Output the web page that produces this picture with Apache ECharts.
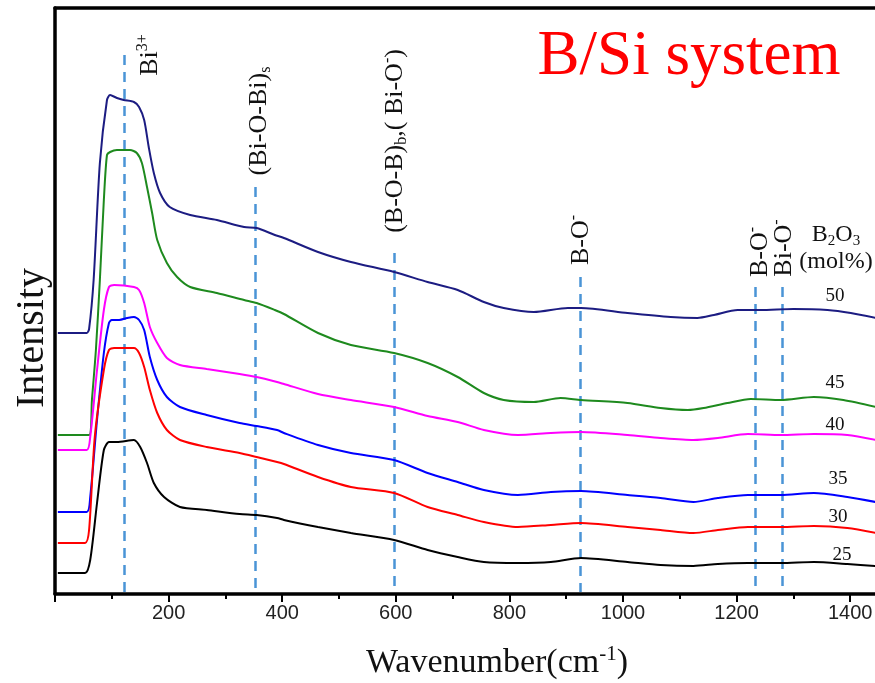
<!DOCTYPE html>
<html><head><meta charset="utf-8">
<script src="https://cdn.jsdelivr.net/npm/echarts@6/dist/echarts.min.js"></script>
<style>html,body{margin:0;padding:0;background:#fff}#c{width:875px;height:683px}</style>
</head><body><div id="c"></div>
<script>
// ---- data (wavenumber cm-1, relative intensity a.u.) ----
const xTickLabels = [200, 400, 600, 800, 1000, 1200, 1400];
const seriesNames = ['50', '45', '40', '35', '30', '25'];
const s50 = [[5,271],[56,271],[60,275],[68,324],[79,441],[91.5,504],[97,509],[109,506],[121,504],[139,502],[148,497],[157,484],[165,457],[174,431],[185,411],[202,397],[238,389],[285,384],[333,377],[355,376],[387,369],[403,366],[463,352],[521,342],[597,332],[656,322],[709,314],[755,302],[790,296],[843,292],[903,296],[926,296],[1008,291],[1084,287],[1131,286],[1160,289],[1202,294],[1242,294],[1300,295],[1360,294],[1401,291],[1445,286]];
const s45 = [[5,169],[60,169],[65,204],[72,254],[79,324],[86,404],[91.5,449],[97,452],[109,454],[132,454],[144,451],[153,441],[162,417],[171,391],[180,364],[197,341],[215,327],[238,317],[285,311],[333,304],[355,301],[387,294],[403,290],[463,271],[521,259],[597,251],[656,241],[709,227],[755,211],[790,204],[843,202],[890,206],[926,204],[1008,201],[1066,196],[1114,194],[1142,196],[1184,201],[1225,205],[1278,204],[1336,207],[1388,204],[1445,197]];
const s40 = [[5,154],[56,154],[62,167],[74,234],[86,294],[95,317],[104,319],[139,317],[148,314],[157,301],[167,277],[180,261],[197,246],[220,239],[267,235],[325,230],[355,227],[391,222],[403,220],[463,210],[521,204],[597,197],[656,188],[709,182],[755,174],[815,169],[873,171],[926,172],[1008,169],[1066,166],[1124,164],[1167,166],[1220,170],[1278,169],[1336,170],[1395,169],[1445,164]];
const s35 = [[5,92],[56,92],[62,107],[74,184],[86,251],[95,281],[100,284],[113,284],[127,286],[139,287],[148,284],[157,274],[167,247],[180,224],[197,207],[220,197],[267,189],[325,181],[355,178],[391,174],[403,171],[463,159],[521,151],[597,144],[656,131],[709,122],[755,114],[815,109],[873,112],[926,113],[1008,109],[1066,106],[1124,102],[1167,106],[1220,109],[1278,109],[1336,111],[1395,107],[1445,102]];
const s30 = [[5,61],[53,61],[60,74],[70,167],[86,234],[95,254],[104,256],[139,256],[148,251],[157,237],[167,214],[180,191],[197,174],[220,164],[267,157],[325,151],[355,147],[391,142],[403,140],[463,127],[521,117],[597,111],[656,97],[709,89],[755,82],[815,77],[873,79],[926,81],[1008,77],[1066,74],[1124,71],[1167,74],[1220,77],[1278,77],[1336,78],[1395,76],[1445,71]];
const s25 = [[5,31],[53,31],[62,44],[74,101],[86,154],[95,162],[109,162],[139,164],[150,157],[162,141],[174,121],[192,107],[220,97],[267,94],[325,90],[355,89],[391,86],[403,84],[463,77],[521,71],[597,64],[656,54],[709,47],[755,42],[815,41],[873,42],[926,46],[1008,42],[1066,39],[1124,38],[1167,40],[1220,41],[1278,41],[1336,42],[1395,40],[1445,38]];
const bandX = [122, 353, 597, 924, 1233, 1280];
const bandTop = [549, 417, 351, 327, 317, 317];
const bandBottom = 12;

const seriesData = [s50, s45, s40, s35, s30, s25];
const seriesColors = ['#1c1c82', '#1e8a1e', '#ff00ff', '#0000ff', '#ff0000', '#000000'];

const SERIF = 'Liberation Serif';
const SANS = 'Liberation Sans';

function rotLabel(x, y, text, size) {
  return {
    type: 'text', x: x, y: y, rotation: Math.PI / 2, silent: true,
    style: {
      text: text, align: 'center', verticalAlign: 'middle', fill: '#111',
      rich: {
        m: { fontFamily: SERIF, fontSize: size, lineHeight: 30, fill: '#111' },
        p: { fontFamily: SERIF, fontSize: Math.round(size * 0.62), lineHeight: 12, verticalAlign: 'top', fill: '#111' },
        b: { fontFamily: SERIF, fontSize: Math.round(size * 0.62), lineHeight: 12, verticalAlign: 'bottom', fill: '#111' }
      }
    }
  };
}
function hText(x, y, text, size) {
  return {
    type: 'text', x: x, y: y, silent: true,
    style: {
      text: text, align: 'center', verticalAlign: 'middle', fill: '#111',
      rich: {
        m: { fontFamily: SERIF, fontSize: size, lineHeight: size + 4, fill: '#111' },
        p: { fontFamily: SERIF, fontSize: Math.round(size * 0.62), lineHeight: 12, verticalAlign: 'top', fill: '#111' },
        b: { fontFamily: SERIF, fontSize: Math.round(size * 0.62), lineHeight: 12, verticalAlign: 'bottom', fill: '#111' }
      }
    }
  };
}

const chart = echarts.init(document.getElementById('c'), null, { renderer: 'canvas' });

const series = seriesData.map((d, i) => ({
  name: seriesNames[i], type: 'line', data: d, showSymbol: false, symbol: 'none',
  smooth: 0.25, lineStyle: { color: seriesColors[i], width: 2 }, itemStyle: { color: seriesColors[i] },
  z: 3
}));
series[5].markLine = {
  silent: true, symbol: ['none', 'none'], label: { show: false },
  lineStyle: { color: '#4a94d6', width: 2.5, type: [10, 7] },
  data: bandX.map((x, i) => [{ coord: [x, bandTop[i]] }, { coord: [x, bandBottom] }]),
  z: 2
};

const option = {
  animation: false,
  backgroundColor: '#fff',
  grid: { left: 55, top: 8, width: 852, height: 586, containLabel: false, outerBoundsMode: 'none' },
  xAxis: [{
    type: 'value', min: 0, max: 1500, interval: 200,
    axisLine: { show: true, lineStyle: { color: '#000', width: 3.5 } },
    axisTick: { show: true, inside: false, length: 8, lineStyle: { color: '#000', width: 2 } },
    minorTick: { show: true, splitNumber: 2, length: 5, lineStyle: { color: '#000', width: 2 } },
    splitLine: { show: false },
    axisLabel: {
      show: true, margin: 9, color: '#222', fontFamily: SANS, fontSize: 20,
      formatter: v => (xTickLabels.indexOf(v) >= 0 ? String(v) : '')
    }
  }, {
    type: 'value', position: 'top', min: 0, max: 1500,
    axisLine: { show: true, lineStyle: { color: '#000', width: 3.5 } },
    axisTick: { show: false }, axisLabel: { show: false }, splitLine: { show: false }
  }],
  yAxis: {
    type: 'value', min: 10, max: 596,
    axisLine: { show: true, lineStyle: { color: '#000', width: 3.5 } },
    axisTick: { show: false }, axisLabel: { show: false }, splitLine: { show: false }
  },
  series: series,
  graphic: [
    { type: 'text', x: 689, y: 57, silent: true,
      style: { text: 'B/Si system', fontFamily: SERIF, fontSize: 63, fill: '#ff0000', align: 'center', verticalAlign: 'middle' } },
    rotLabel(150, 55, '{m|Bi}{p|3+}', 26),
    rotLabel(259, 121, '{m|(Bi-O-Bi)}{b|s}', 26),
    rotLabel(395, 141, '{m|(B-O-B)}{b|b}{m|,( Bi-O}{p|-}{m|)}', 26),
    rotLabel(581, 240, '{m|B-O}{p|-}', 26),
    rotLabel(760, 252, '{m|B-O}{p|-}', 26),
    rotLabel(784, 248, '{m|Bi-O}{p|-}', 26),
    hText(836, 235, '{m|B}{b|2}{m|O}{b|3}', 24),
    hText(836, 262, '{m|(mol%)}', 24),
    hText(835, 296, '{m|' + seriesNames[0] + '}', 19),
    hText(835, 383, '{m|' + seriesNames[1] + '}', 19),
    hText(835, 425, '{m|' + seriesNames[2] + '}', 19),
    hText(838, 479, '{m|' + seriesNames[3] + '}', 19),
    hText(838, 517, '{m|' + seriesNames[4] + '}', 19),
    hText(842, 555, '{m|' + seriesNames[5] + '}', 19),
    { type: 'text', x: 32, y: 338, rotation: Math.PI / 2, silent: true,
      style: { text: 'Intensity', fontFamily: SERIF, fontSize: 40, fill: '#111', align: 'center', verticalAlign: 'middle' } },
    hText(497, 663, '{m|Wavenumber(cm}{p|-1}{m|)}', 34)
  ]
};
chart.setOption(option);
</script>
</body></html>
